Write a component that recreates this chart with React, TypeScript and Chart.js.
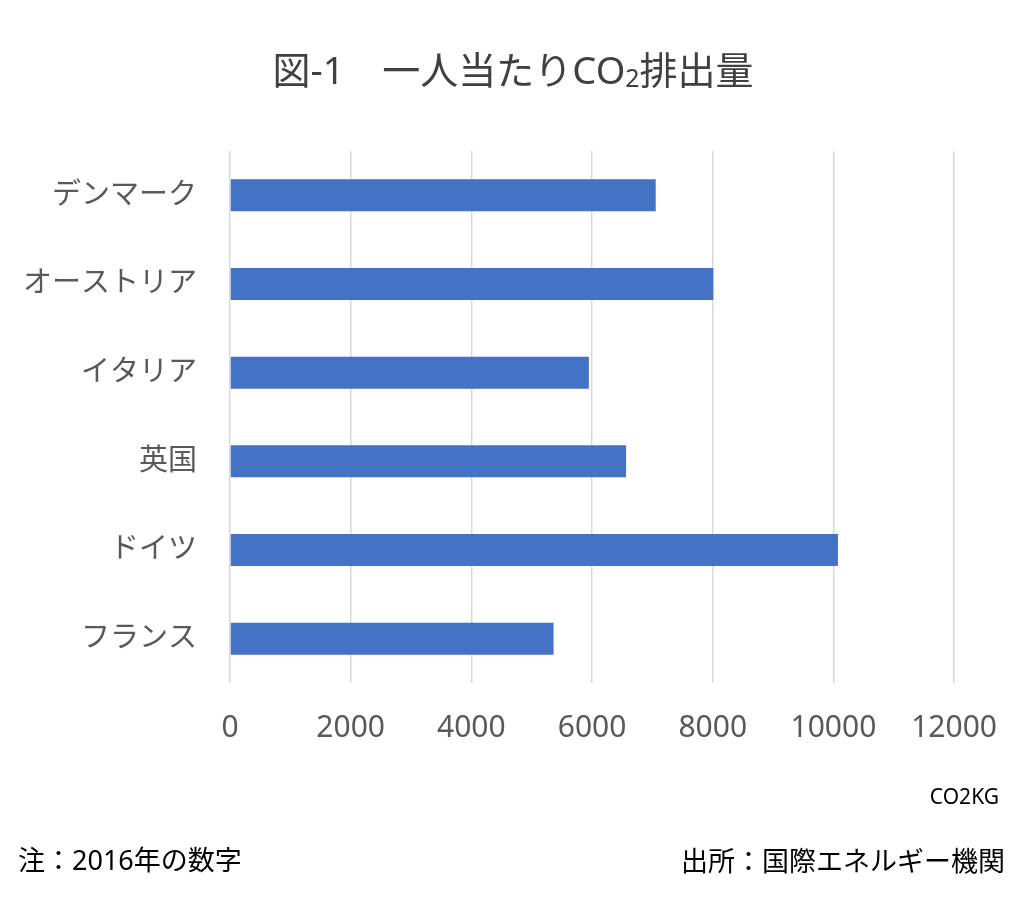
import React, { useEffect, useRef } from "react";
import { Chart, registerables } from "chart.js";

Chart.register(...registerables);

const categories = ["デンマーク", "オーストリア", "イタリア", "英国", "ドイツ", "フランス"];
const co2Values = [7055, 8010, 5947, 6564, 10075, 5362];
const xTicks = [0, 2000, 4000, 6000, 8000, 10000, 12000];

const titleMain = "図-1　一人当たりCO";
const titleSub = "2";
const titleEnd = "排出量";
const unitLabel = "CO2KG";
const noteLabel = "注：2016年の数字";
const sourceLabel = "出所：国際エネルギー機関";

const FONT = '"Noto Sans", "Noto Sans CJK JP", sans-serif';

const textPlugin = {
  id: "textPlugin",
  afterDraw(chart: any) {
    const ctx = chart.ctx as CanvasRenderingContext2D;
    ctx.save();
    ctx.textBaseline = "alphabetic";
    ctx.fillStyle = "#404040";
    const big = `38px ${FONT}`;
    const small = `25px ${FONT}`;
    ctx.font = big;
    const w1 = ctx.measureText(titleMain).width;
    const w3 = ctx.measureText(titleEnd).width;
    ctx.font = small;
    const w2 = ctx.measureText(titleSub).width;
    const total = w1 + w2 + w3;
    let x = 513 - total / 2;
    const baseline = 84;
    ctx.textAlign = "left";
    ctx.font = big;
    ctx.fillText(titleMain, x, baseline);
    x += w1;
    ctx.font = small;
    ctx.fillText(titleSub, x, baseline + 3);
    x += w2;
    ctx.font = big;
    ctx.fillText(titleEnd, x, baseline);

    ctx.fillStyle = "#000000";
    ctx.textBaseline = "middle";
    ctx.textAlign = "right";
    ctx.font = `21px ${FONT}`;
    ctx.fillText(unitLabel, 999, 798);

    ctx.font = `27px ${FONT}`;
    ctx.textAlign = "left";
    ctx.fillText(noteLabel, 18, 862);
    ctx.textAlign = "right";
    ctx.fillText(sourceLabel, 1005, 863);
    ctx.restore();
  },
};

export default function App() {
  const canvasRef = useRef<HTMLCanvasElement | null>(null);

  useEffect(() => {
    if (!canvasRef.current) return;
    const chart = new Chart(canvasRef.current, {
      type: "bar",
      data: {
        labels: categories,
        datasets: [
          {
            data: co2Values,
            backgroundColor: "#4472C4",
            borderWidth: 0,
            categoryPercentage: 1,
            barPercentage: 0.36,
          },
        ],
      },
      options: {
        indexAxis: "y",
        responsive: false,
        animation: false,
        layout: { padding: { left: 0, right: 68, top: 151, bottom: 0 } },
        plugins: {
          legend: { display: false },
          tooltip: { enabled: false },
          title: { display: false },
        },
        scales: {
          x: {
            type: "linear",
            min: 0,
            max: 12000,
            afterBuildTicks: (scale: any) => {
              scale.ticks = xTicks.map((v) => ({ value: v }));
            },
            afterFit: (scale: any) => {
              scale.height = 902 - 683;
            },
            grid: { color: "#d9d9d9", lineWidth: 1.5, drawTicks: false },
            border: { display: false },
            ticks: {
              color: "#595959",
              font: { family: FONT, size: 30 },
              padding: 27,
              maxRotation: 0,
              autoSkip: false,
              callback: (v: any) => String(v),
            },
          },
          y: {
            afterFit: (scale: any) => {
              scale.width = 230;
            },
            grid: { display: false, drawTicks: false },
            border: { display: false },
            ticks: {
              color: "#595959",
              font: { family: FONT, size: 29 },
              padding: 33,
            },
          },
        },
      },
      plugins: [textPlugin],
    });
    return () => chart.destroy();
  }, []);

  return (
    <div style={{ position: "absolute", left: 0, top: 0, width: 1024, height: 902, background: "#fff" }}>
      <canvas ref={canvasRef} width={1024} height={902} style={{ display: "block" }} />
    </div>
  );
}
